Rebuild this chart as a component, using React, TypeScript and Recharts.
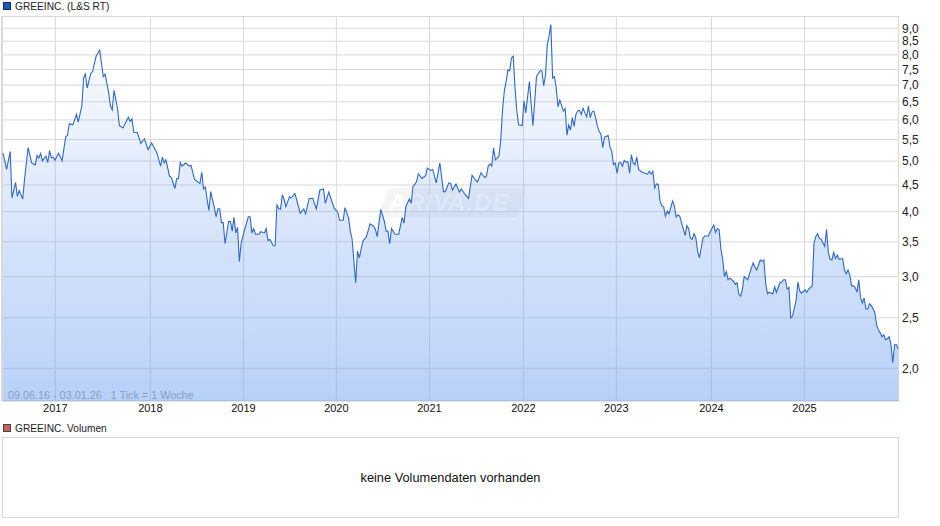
import { AreaChart, Area, XAxis, YAxis, CartesianGrid } from 'recharts';

// weeks since 09.06.16, one entry per visible vertex of the line
const weeks = [
  0, 2, 4, 5, 7, 8, 9, 11, 12, 14, 16, 18, 19, 20, 21, 22, 24, 25, 26, 27, 28, 29, 31, 33, 35, 36, 37, 39, 41, 42,
  44, 45, 46, 47, 49, 50, 52, 54, 56, 57, 59, 60, 61, 62, 64, 65, 67, 70, 71, 72, 73, 75, 77, 79, 81, 83, 85, 86, 88, 89,
  90, 91, 93, 94, 96, 97, 98, 99, 100, 102, 104, 105, 107, 110, 111, 112, 113, 114, 115, 116, 117, 118, 119, 120, 121, 122, 123, 124, 126, 127,
  128, 129, 130, 131, 132, 133, 135, 137, 138, 139, 140, 141, 143, 144, 146, 147, 148, 149, 151, 152, 153, 154, 155, 156, 157, 158, 160, 161, 163, 164,
  166, 168, 169, 171, 173, 175, 177, 179, 180, 182, 184, 185, 187, 188, 190, 191, 193, 194, 195, 196, 197, 198, 199, 201, 203, 205, 207, 208, 209, 211,
  213, 214, 215, 216, 217, 219, 221, 223, 224, 225, 227, 228, 229, 230, 231, 232, 234, 236, 237, 239, 240, 242, 244, 246, 247, 249, 250, 251, 253, 255,
  256, 258, 260, 262, 264, 265, 267, 269, 270, 271, 272, 273, 274, 275, 277, 278, 279, 280, 281, 282, 283, 284, 285, 286, 287, 288, 290, 291, 292, 294,
  296, 298, 300, 301, 302, 303, 304, 305, 306, 307, 308, 309, 310, 311, 312, 313, 314, 315, 316, 317, 318, 319, 320, 321, 322, 323, 324, 325, 326, 327,
  328, 329, 330, 331, 332, 333, 334, 335, 336, 338, 339, 340, 341, 342, 343, 344, 345, 346, 347, 348, 349, 350, 351, 352, 353, 354, 355, 357, 360, 361,
  362, 363, 364, 365, 366, 367, 368, 369, 370, 371, 372, 374, 375, 376, 377, 378, 379, 381, 382, 383, 384, 385, 386, 387, 388, 389, 391, 392, 394, 395,
  397, 398, 399, 400, 401, 402, 403, 404, 405, 406, 408, 409, 410, 411, 412, 413, 414, 416, 417, 419, 420, 421, 423, 424, 425, 426, 427, 428, 430, 431,
  432, 434, 435, 436, 437, 438, 439, 440, 441, 443, 444, 445, 446, 448, 449, 450, 452, 453, 454, 455, 456, 457, 458, 459, 460, 461, 462, 463, 464, 465,
  466, 467, 469, 470, 471, 472, 473, 474, 475, 476, 477, 478, 479, 480, 481, 482, 483, 484, 485, 487, 488, 489, 490, 491, 492, 493, 494, 495, 496, 497,
  498, 499, 500,
];

const prices = [
  5.18, 4.82, 5.22, 4.25, 4.55, 4.28, 4.39, 4.23, 4.61, 5.31, 4.96, 4.92, 5.13, 5.07, 5.17, 5.01, 5.11, 4.97, 5.24, 5.07, 5.09, 5.02, 5.18, 5.01, 5.57, 5.6, 5.9, 5.87, 6.15, 5.94,
  6.38, 7.22, 7.35, 6.91, 7.37, 7.43, 7.95, 8.17, 7.27, 7.35, 6.76, 6.38, 6.27, 6.84, 6.29, 5.85, 5.79, 6.07, 5.96, 6.03, 5.68, 5.67, 5.41, 5.52, 5.26, 5.42, 5.26, 5.18, 4.89, 5.09,
  4.96, 5.03, 4.68, 4.65, 4.43, 4.63, 4.63, 4.97, 4.89, 4.96, 4.89, 4.91, 4.61, 4.53, 4.76, 4.42, 4.46, 4.22, 4.02, 4.37, 4.22, 4.08, 3.91, 4.05, 4.05, 3.81, 3.81, 3.47, 3.83, 3.83,
  3.67, 3.9, 3.64, 3.73, 3.21, 3.48, 3.7, 3.91, 3.91, 3.64, 3.71, 3.62, 3.62, 3.66, 3.64, 3.71, 3.52, 3.54, 3.44, 3.44, 4.13, 4.05, 4.04, 4.31, 4.22, 4.09, 4.27, 4.25, 4.33, 4.22,
  3.97, 4.05, 3.96, 4.24, 4.24, 4.05, 4.4, 4.42, 4.15, 4.36, 4.15, 4.06, 3.99, 3.85, 3.85, 4.07, 3.89, 3.67, 3.54, 3.21, 2.92, 3.36, 3.26, 3.51, 3.58, 3.79, 3.75, 3.7, 3.58, 4.04,
  3.83, 3.67, 3.67, 3.47, 3.71, 3.62, 3.62, 3.9, 3.8, 4.09, 4.23, 4.15, 4.47, 4.51, 4.57, 4.73, 4.63, 4.69, 4.85, 4.8, 4.82, 4.54, 4.96, 4.37, 4.37, 4.54, 4.53, 4.4, 4.52, 4.36,
  4.42, 4.32, 4.24, 4.7, 4.59, 4.56, 4.75, 4.65, 4.68, 4.89, 4.94, 4.89, 5.3, 5.03, 5.11, 5.48, 6.27, 6.81, 7.11, 7.48, 7.46, 7.89, 7.95, 6.91, 6.24, 5.87, 5.85, 6.52, 6.19, 7.11,
  5.85, 7.27, 7.46, 7.46, 6.98, 7.31, 8.37, 8.68, 9.15, 7.22, 7.27, 6.91, 6.36, 6.55, 6.4, 6.24, 6.31, 5.61, 5.87, 5.74, 6.06, 5.83, 6.15, 6.24, 6.26, 6.15, 6.32, 6.19, 6.08, 6.38,
  6.06, 6.21, 6.24, 6.06, 5.83, 5.7, 5.64, 5.31, 5.56, 5.6, 5.33, 5.22, 4.92, 4.96, 4.74, 4.96, 4.97, 4.89, 5.02, 4.98, 4.99, 4.74, 5.14, 4.96, 4.92, 5.09, 4.82, 4.76, 4.72, 4.78,
  4.72, 4.78, 4.44, 4.52, 4.51, 4.19, 4.1, 4.09, 3.92, 4.01, 3.96, 4.19, 4.1, 3.91, 3.94, 3.92, 3.81, 3.6, 3.76, 3.71, 3.55, 3.54, 3.63, 3.56, 3.36, 3.26, 3.56, 3.59, 3.59, 3.66,
  3.77, 3.65, 3.71, 3.69, 3.39, 3.24, 3.0, 3.07, 2.96, 2.98, 2.94, 2.9, 2.92, 2.78, 2.75, 2.84, 3.0, 2.96, 3.04, 3.19, 3.13, 3.09, 3.23, 3.21, 3.23, 2.92, 2.78, 2.8, 2.78, 2.87,
  2.8, 2.92, 2.93, 2.96, 2.96, 2.84, 2.86, 2.5, 2.52, 2.7, 2.93, 2.82, 2.79, 2.83, 2.8, 2.84, 2.88, 3.48, 3.58, 3.63, 3.55, 3.54, 3.48, 3.43, 3.7, 3.34, 3.24, 3.23, 3.34, 3.25,
  3.3, 3.24, 3.25, 3.09, 3.04, 3.09, 3.02, 2.88, 2.88, 2.86, 2.8, 2.96, 2.74, 2.67, 2.73, 2.6, 2.6, 2.66, 2.64, 2.56, 2.42, 2.37, 2.34, 2.3, 2.32, 2.27, 2.28, 2.3, 2.22, 2.05,
  2.22, 2.22, 2.18,
];

const priceTicks = [2, 2.5, 3, 3.5, 4, 4.5, 5, 5.5, 6, 6.5, 7, 7.5, 8, 8.5, 9];
const yearTicks = [29.2, 82.3, 134.3, 186.2, 238.2, 290.7, 342.6, 395.7, 447.7];
const yearLabels = ['2017', '2018', '2019', '2020', '2021', '2022', '2023', '2024', '2025'];

const chartData = weeks.map((week, i) => ({ week, price: prices[i] }));

const FONT = '"Liberation Sans", Arial, sans-serif';
const GRID = '#d9d9d9';

function Swatch({ top, fill, border }: { top: number; fill: string; border: string }) {
  return (
    <div
      style={{
        position: 'absolute',
        left: 3,
        top,
        width: 6,
        height: 6,
        background: fill,
        border: `1px solid ${border}`,
      }}
    />
  );
}

function Label({ top, children }: { top: number; children: string }) {
  return (
    <div style={{ position: 'absolute', left: 15, top, fontSize: 10.2, lineHeight: '13px', color: '#222', whiteSpace: 'nowrap' }}>
      {children}
    </div>
  );
}

export default function App() {
  return (
    <div style={{ position: 'absolute', left: 0, top: 0, width: 940, height: 526, fontFamily: FONT, background: '#fff', overflow: 'hidden' }}>
      <Swatch top={2} fill="#1f57b4" border="#0c2f6e" />
      <Label top={0}>GREEINC. (L&S RT)</Label>

      <AreaChart
        width={940}
        height={526}
        data={chartData}
        margin={{ top: 16.5, right: 0, bottom: 105, left: 2.5 }}
        style={{ position: 'absolute', left: 0, top: 0 }}
      >
        <defs>
          <linearGradient id="priceFill" x1="0" y1="0" x2="0" y2="1">
            <stop offset="0%" stopColor="#71a1f1" stopOpacity={0.01} />
            <stop offset="100%" stopColor="#71a1f1" stopOpacity={0.5} />
          </linearGradient>
        </defs>
        <rect x={2.5} y={16.5} width={896} height={384.5} fill="none" stroke={GRID} strokeWidth={1} />
        <line x1={2} y1={16} x2={2} y2={401} stroke={GRID} strokeWidth={2} />
        <CartesianGrid stroke={GRID} strokeWidth={1} />
        <g opacity={0.55}>
          <path d="M 394 188 L 524 188 Q 527 188 526 191 L 519 213 Q 518 217 514 217 L 382 217 Q 377 217 379 213 L 387 192 Q 389 188 394 188 Z" fill="#d9d9d9" opacity={0.45} />
          <text x={449} y={211} textAnchor="middle" fontFamily={FONT} fontSize={24} fontWeight="bold" fontStyle="italic" fill="#ffffff" letterSpacing={1}>
            ARIVA.DE
          </text>
        </g>
        <XAxis
          dataKey="week"
          type="number"
          domain={[-0.3, 500.2]}
          ticks={yearTicks}
          interval={0}
          height={20}
          axisLine={false}
          tickLine={false}
          tickSize={0}
          tickMargin={3}
          tick={{ fontSize: 11, fill: '#111', fontFamily: FONT }}
          tickFormatter={(v: number) => yearLabels[yearTicks.indexOf(v)]}
        />
        <YAxis
          orientation="right"
          type="number"
          scale="log"
          domain={[1.731, 9.48]}
          allowDataOverflow
          ticks={priceTicks}
          interval={0}
          width={41.5}
          axisLine={false}
          tickLine={false}
          tickSize={0}
          tickMargin={3.5}
          tick={{ fontSize: 12, fill: '#222', fontFamily: FONT }}
          tickFormatter={(v: number) => v.toFixed(1).replace('.', ',')}
        />
        <Area
          type="linear"
          dataKey="price"
          stroke="#2f68c8"
          strokeWidth={1.1}
          fill="url(#priceFill)"
          fillOpacity={1}
          dot={false}
          activeDot={false}
          isAnimationActive={false}
        />
        <text x={8} y={399} fontFamily={FONT} fontSize={10.8} fill="#9a9a9a" xmlSpace="preserve">
          09.06.16 - 03.01.26   1 Tick = 1 Woche
        </text>
      </AreaChart>

      <Swatch top={424} fill="#c9605a" border="#444" />
      <Label top={422}>GREEINC. Volumen</Label>
      <div
        style={{
          position: 'absolute',
          left: 2,
          top: 437,
          width: 895,
          height: 79,
          border: `1px solid ${GRID}`,
          display: 'flex',
          alignItems: 'center',
          justifyContent: 'center',
          fontSize: 12.8,
          color: '#111',
        }}
      >
        keine Volumendaten vorhanden
      </div>
    </div>
  );
}
